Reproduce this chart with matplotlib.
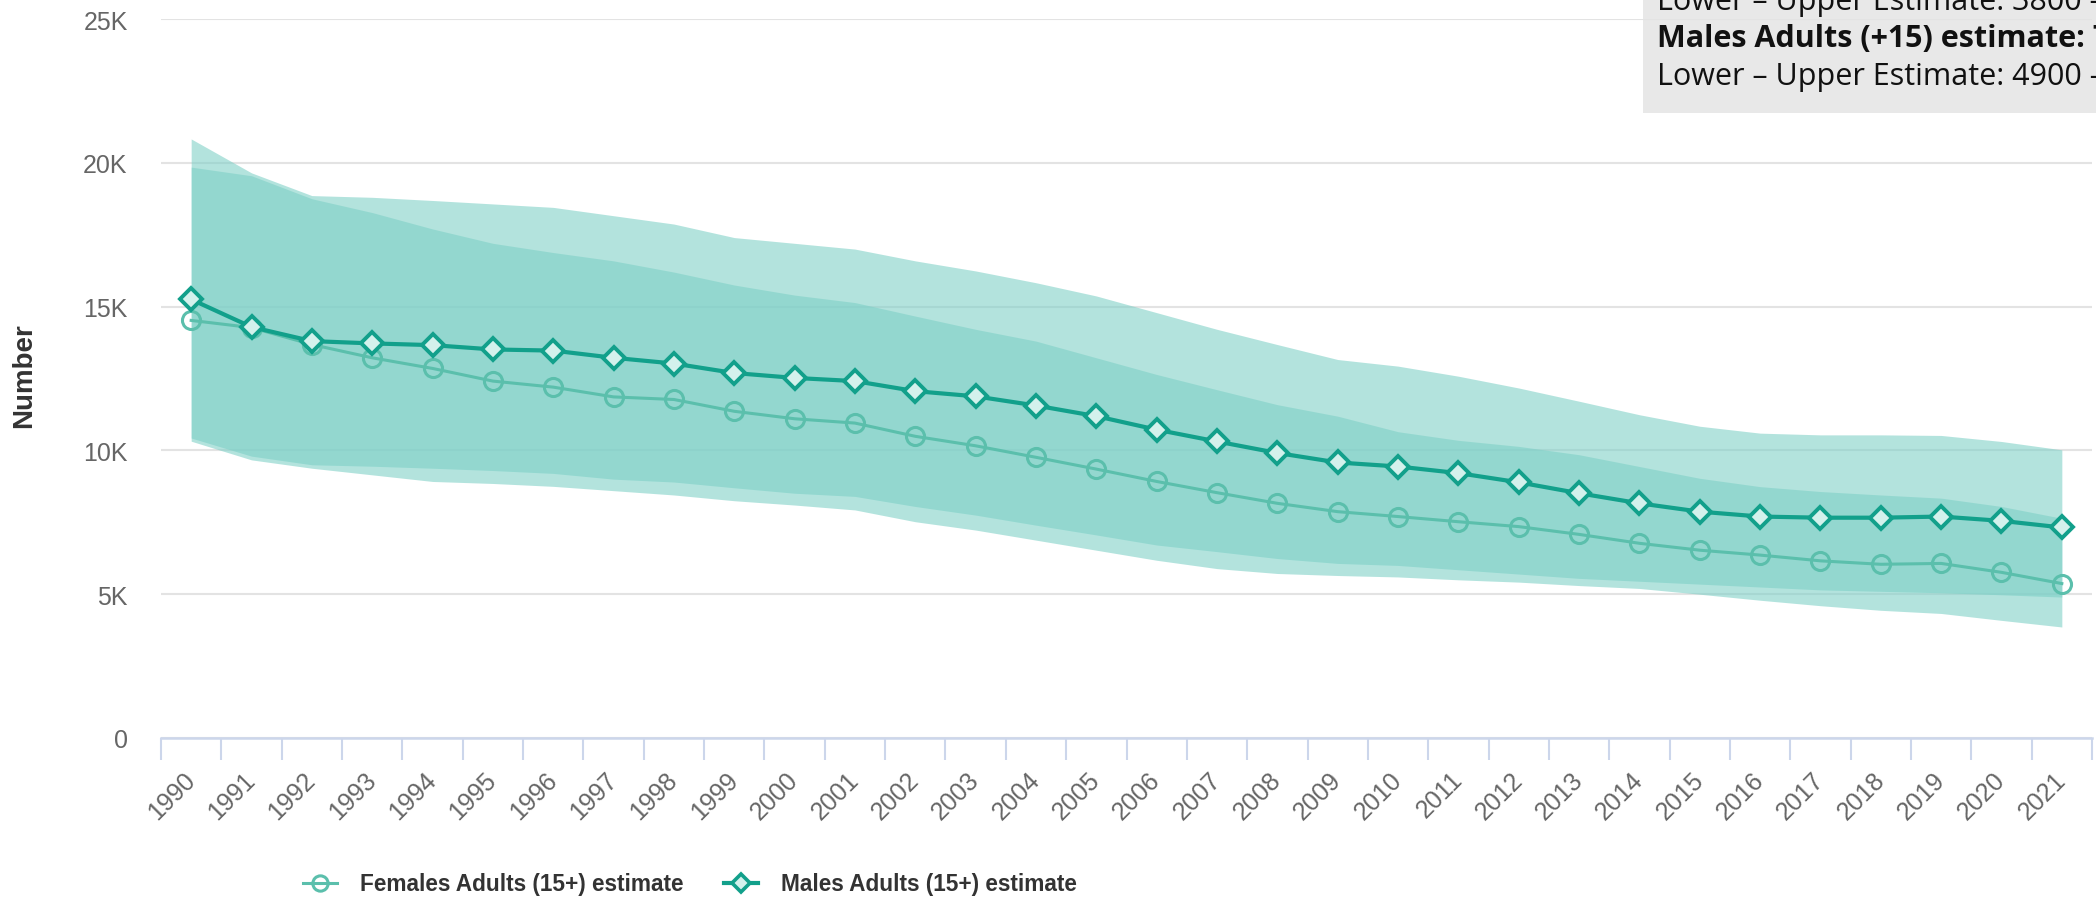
import numpy as np
import matplotlib.pyplot as plt
from matplotlib.patches import Rectangle
from matplotlib.lines import Line2D

years = list(range(1990, 2022))

female_est = [14520, 14270, 13680, 13220, 12850, 12410, 12200, 11860, 11770, 11360,
              11100, 10950, 10490, 10160, 9760, 9350, 8920, 8530, 8160, 7870,
              7700, 7520, 7350, 7080, 6770, 6530, 6360, 6160, 6040, 6070,
              5760, 5370]
female_lo = [10320, 9670, 9380, 9150, 8920, 8850, 8750, 8600, 8450, 8250,
             8100, 7930, 7520, 7230, 6880, 6530, 6180, 5890, 5720, 5650,
             5600, 5500, 5420, 5300, 5200, 5000, 4790, 4600, 4440, 4330,
             4090, 3860]
female_hi = [19850, 19550, 18750, 18270, 17700, 17200, 16880, 16590, 16200, 15750,
             15400, 15140, 14670, 14210, 13800, 13220, 12640, 12110, 11590, 11190,
             10650, 10350, 10140, 9850, 9440, 9030, 8740, 8570, 8450, 8340,
             8050, 7640]

male_est = [15250, 14290, 13800, 13720, 13660, 13510, 13470, 13220, 13020, 12690,
            12520, 12410, 12060, 11880, 11560, 11190, 10720, 10310, 9910, 9580,
            9440, 9210, 8890, 8510, 8160, 7870, 7700, 7660, 7660, 7700,
            7550, 7320]
male_lo = [10430, 9800, 9500, 9450, 9380, 9300, 9200, 9000, 8900, 8700,
           8510, 8400, 8050, 7750, 7400, 7060, 6710, 6480, 6240, 6070,
           6000, 5850, 5700, 5550, 5450, 5350, 5250, 5150, 5100, 5050,
           4980, 4900]
male_hi = [20830, 19650, 18860, 18800, 18690, 18570, 18450, 18160, 17870, 17400,
           17200, 17000, 16590, 16240, 15830, 15370, 14790, 14210, 13680, 13160,
           12930, 12580, 12170, 11710, 11240, 10840, 10600, 10540, 10540, 10520,
           10310, 10020]

band_color = (124 / 255, 208 / 255, 198 / 255)
female_color = '#5bbfac'
male_color = '#12a08b'

W, H = 2096, 903
fig = plt.figure(figsize=(W / 100, H / 100), dpi=100)
ax = fig.add_axes([161 / W, (H - 739) / H, (2092 - 161) / W, (739 - 20) / H])

x = np.arange(len(years))

ax.fill_between(x, male_lo, male_hi, color=band_color, alpha=0.58, lw=0, zorder=2)
ax.fill_between(x, female_lo, female_hi, color=band_color, alpha=0.58, lw=0, zorder=2)

ax.plot(x, female_est, color=female_color, lw=2.2, marker='o', ms=13,
        mfc='none', mec=female_color, mew=2.2, zorder=4)
ax.plot(x, male_est, color=male_color, lw=3, marker='D', ms=11.5,
        mfc='#d3f1ec', mec=male_color, mew=2.8, zorder=5)

ax.set_xlim(-0.5, len(years) - 0.5)
ax.set_ylim(0, 25000)

# y axis
ax.set_yticks([0, 5000, 10000, 15000, 20000, 25000])
ax.set_yticklabels(['0', '5K', '10K', '15K', '20K', '25K'])
ax.yaxis.grid(True, color='#e3e3e3', lw=1.5, zorder=0)
ax.set_axisbelow(True)
ax.tick_params(axis='y', length=0, pad=24, labelsize=18, labelcolor='#666666')

# x axis: labels at categories, tick marks at boundaries
ax.set_xticks(x)
ax.set_xticklabels([str(y) for y in years], rotation=45, ha='right', va='center',
                   rotation_mode='anchor')
ax.set_xticks(np.arange(len(years) + 1) - 0.5, minor=True)
ax.tick_params(axis='x', which='major', length=0, pad=27, labelsize=18, labelcolor='#666666')
ax.tick_params(axis='x', which='minor', length=16, width=1.5, color='#ccd6eb')

for side in ['top', 'right', 'left']:
    ax.spines[side].set_visible(False)
ax.spines['bottom'].set_color('#ccd6eb')
ax.spines['bottom'].set_linewidth(1.8)

for lab in ax.get_xticklabels() + ax.get_yticklabels():
    lab.set_family('Liberation Sans')

fig.text(24 / W, 1 - 376 / H, 'Number', rotation=90, ha='center', va='center',
         fontsize=20, fontweight='bold', color='#333333',
         family=['Liberation Sans Narrow', 'Liberation Sans'])

# legend
handles = [
    Line2D([], [], color=female_color, lw=2.2, marker='o', ms=11, mfc='none', mec=female_color, mew=2.2),
    Line2D([], [], color=male_color, lw=3, marker='D', ms=9.5, mfc='#d3f1ec', mec=male_color, mew=2.6),
]
labels = ['Females Adults (15+) estimate', 'Males Adults (15+) estimate']
fig.legend(handles, labels, loc='center', bbox_to_anchor=(690 / W, 1 - 885 / H), ncol=2,
           frameon=False, handlelength=1.5, columnspacing=1.8, handletextpad=1.0,
           prop={'family': 'Liberation Sans', 'weight': 'bold', 'size': 16.3},
           labelcolor='#333333')

# tooltip box (partly outside the frame)
fig.add_artist(Rectangle((1643 / W, 1 - 114 / H), 0.5, 0.5, transform=fig.transFigure,
                         facecolor='#e4e4e4', alpha=0.85, edgecolor='none', zorder=10))
tip_lines = [('Lower \u2013 Upper Estimate: 3800 \u2013 7600', 'normal', 2),
             ('Males Adults (+15) estimate: 7300', 'bold', 39),
             ('Lower \u2013 Upper Estimate: 4900 \u2013 10000', 'normal', 77)]
for txt, wt, yy in tip_lines:
    fig.text(1657 / W, 1 - yy / H, txt, ha='left', va='center', fontsize=22,
             fontweight=wt, color='#111111', family='Open Sans', zorder=11)

fig.savefig('out.png', dpi=100)
